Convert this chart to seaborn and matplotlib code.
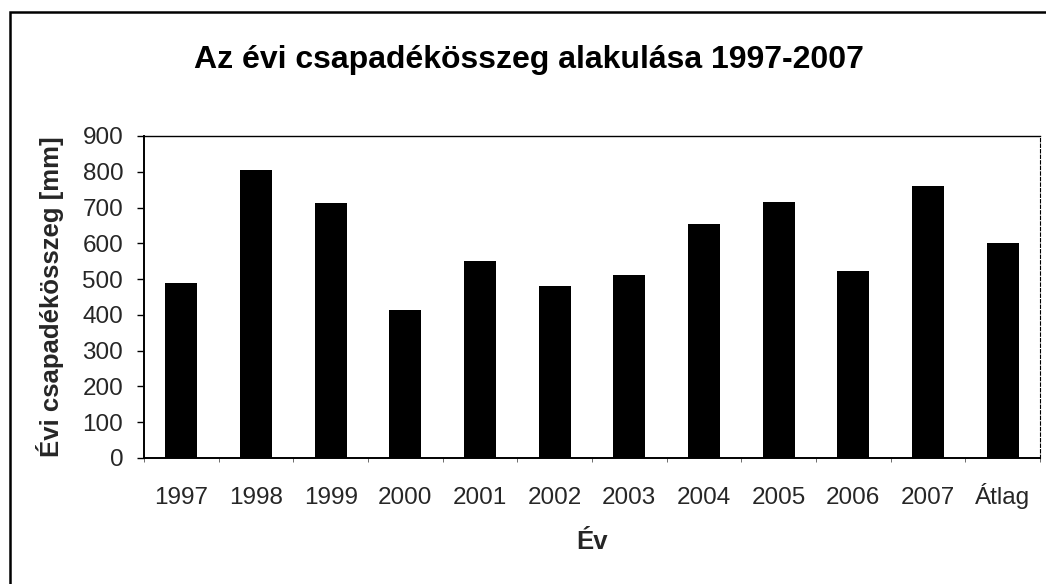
import numpy as np
import pandas as pd
import matplotlib
matplotlib.use("Agg")
import matplotlib.pyplot as plt
from matplotlib.patches import Rectangle
from matplotlib.ticker import FixedLocator
import seaborn as sns

# Annual precipitation totals 1997-2007 and their average
categories = ["1997", "1998", "1999", "2000", "2001", "2002", "2003",
              "2004", "2005", "2006", "2007", "Átlag"]
precip_mm = [490, 804, 712, 415, 551, 482, 512, 654, 716, 522, 760, 602]
y_ticks = [0, 100, 200, 300, 400, 500, 600, 700, 800, 900]

title_text = "Az évi csapadékösszeg alakulása 1997-2007"
x_label = "Év"
y_label = "Évi csapadékösszeg [mm]"

df = pd.DataFrame({"ev": categories, "csapadek": precip_mm})

sns.set_theme(style="white")
plt.rcParams["font.family"] = ["Liberation Sans", "DejaVu Sans"]

fig = plt.figure(figsize=(10.46, 5.84), dpi=100)
fig.patch.set_facecolor("white")
ax = fig.add_axes([144 / 1046, 1 - 458 / 584, (1040 - 144) / 1046, (458 - 136) / 584])

sns.barplot(data=df, x="ev", y="csapadek", color="black", width=0.43,
            saturation=1, ax=ax, edgecolor="black", linewidth=0)

ax.set_ylim(0, 900)
ax.set_xlim(-0.5, len(categories) - 0.5)
ax.set_yticks(y_ticks)
ax.set_yticklabels([str(v) for v in y_ticks], fontsize=17.5)
ax.tick_params(axis="y", direction="out", length=5, width=1, color="black",
               pad=10, left=True)
ax.tick_params(axis="x", which="major", length=0, pad=33, labelsize=17.5)
# keep all category labels on one baseline, accented or not
for lbl in ax.get_xticklabels():
    lbl.set_verticalalignment("baseline")
ax.xaxis.set_minor_locator(FixedLocator(np.arange(-0.5, len(categories), 1.0)))
ax.tick_params(axis="x", which="minor", direction="out", length=3, width=0.6,
               color="#555555", bottom=True)

for side in ["left", "bottom", "top", "right"]:
    ax.spines[side].set_visible(True)
    ax.spines[side].set_color("black")
ax.spines["left"].set_linewidth(1.4)
ax.spines["bottom"].set_linewidth(1.4)
ax.spines["top"].set_linewidth(1.0)
ax.spines["right"].set_linewidth(0.8)
ax.spines["right"].set_linestyle((0, (3, 2)))

ax.set_xlabel(x_label, fontsize=18.5, fontweight="bold", labelpad=15)
ax.set_ylabel(y_label, fontsize=18.5, fontweight="bold", labelpad=13)

fig.text(0.506, 1 - 60 / 584, title_text, ha="center", va="center",
         fontsize=23, fontweight="bold", color="black")

# Chart area border
fig.patches.append(Rectangle((10 / 1046, -0.05), 1.2, (584 - 12) / 584 + 0.05,
                             transform=fig.transFigure, fill=False,
                             edgecolor="black", linewidth=1.8, clip_on=False))

fig.savefig("out.png", dpi=100, facecolor="white")
